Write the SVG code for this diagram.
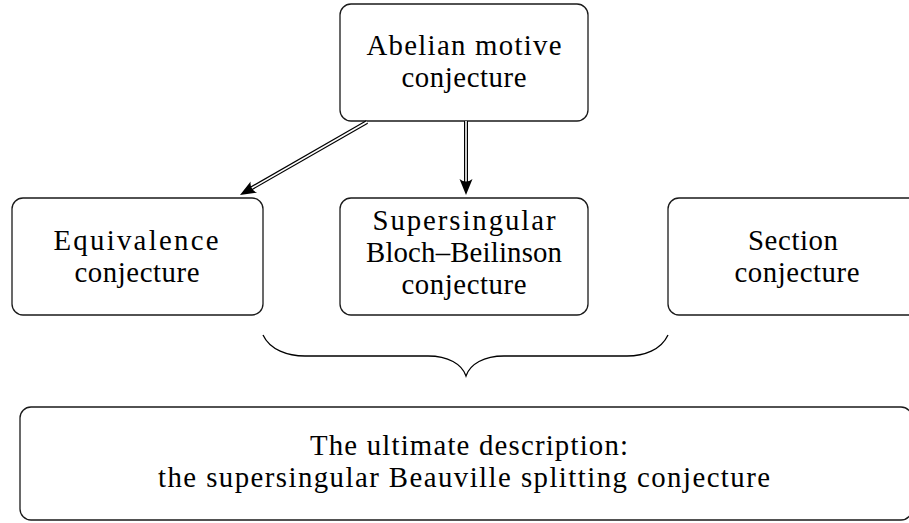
<svg xmlns="http://www.w3.org/2000/svg" width="909" height="523" viewBox="0 0 909 523">
<style>
.box{fill:#fff;stroke:#1a1a1a;stroke-width:1.3}
.t{font-family:"Liberation Serif","Times New Roman",serif;font-size:28.8px;fill:#000;text-anchor:middle}
.outer{fill:none;stroke:#000;stroke-width:4}
.inner{fill:none;stroke:#fff;stroke-width:1.6}
.head{fill:#000;stroke:none}
.brace{fill:none;stroke:#000;stroke-width:1.3}
</style>
<defs>
<path id="ah" d="M0,0 L-16,-6.5 Q-11,0 -16,6.5 Z"/>
</defs>
<g id="n_abelian">
<rect class="box" x="340" y="4" width="248" height="117" rx="11"/>
<text class="t" x="464" y="55" textLength="195">Abelian motive</text>
<text class="t" x="464" y="87" textLength="125">conjecture</text>
</g>
<g id="n_equivalence">
<rect class="box" x="12" y="198" width="251" height="117" rx="11"/>
<text class="t" x="136" y="250" textLength="165">Equivalence</text>
<text class="t" x="137" y="282" textLength="125">conjecture</text>
</g>
<g id="n_blochbeilinson">
<rect class="box" x="340" y="198" width="248" height="117" rx="11"/>
<text class="t" x="464" y="230" textLength="183">Supersingular</text>
<text class="t" x="464" y="262" textLength="196">Bloch–Beilinson</text>
<text class="t" x="464" y="294" textLength="125">conjecture</text>
</g>
<g id="n_section">
<rect class="box" x="668" y="198" width="252" height="117" rx="11"/>
<text class="t" x="793" y="250" textLength="90">Section</text>
<text class="t" x="797" y="282" textLength="125">conjecture</text>
</g>
<g id="n_ultimate">
<rect class="box" x="20" y="407" width="892" height="113" rx="11"/>
<text class="t" x="469" y="455" textLength="318">The ultimate description:</text>
<text class="t" x="464" y="487" textLength="612">the supersingular Beauville splitting conjecture</text>
</g>
<g id="connectors">
<path class="outer" d="M367,122 L251,188.5"/>
<path class="inner" d="M367,122 L249,189.7"/>
<use href="#ah" class="head" transform="translate(240,195) rotate(150.1)"/>
<path class="outer" d="M466,121 L466,183"/>
<path class="inner" d="M466,121 L466,184.5"/>
<use href="#ah" class="head" transform="translate(466,195) rotate(90)"/>
<path class="brace" d="M263,335 C270,350 288,356 305,356 L428,356 C448,356 462,364 466,376 C470,364 484,356 504,356 L627,356 C644,356 661,350 668,335"/>
</g>
</svg>
